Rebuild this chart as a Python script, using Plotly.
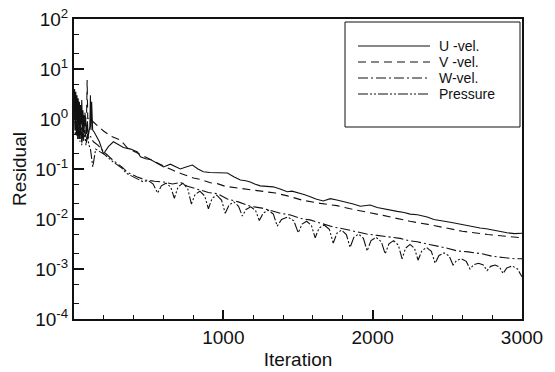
import plotly.graph_objects as go

# ---- data (iteration, residual) ----
u_data = [(0,2.0),(4,4.0),(8,0.9),(12,3.5),(16,1.0),(20,3.0),(24,0.7),(28,2.6),(32,0.9),(36,2.2),
          (40,0.6),(44,1.9),(48,0.8),(52,2.4),(56,0.6),(60,1.5),(64,0.55),(68,1.2),(72,0.7),(78,1.0),
          (84,0.5),(90,0.9),(95,0.45),(100,0.6),(106,0.7),(110,3.0),(114,0.6),(118,2.2),(125,0.6),
          (135,0.55),(150,0.45),(170,0.35),(197,0.2),(230,0.28),(264,0.35),(300,0.3),(331,0.27),
          (380,0.25),(425,0.22),(445,0.175),(480,0.16),(512,0.155),(560,0.13),(600,0.11),(645,0.125),
          (680,0.11),(712,0.1),(750,0.11),(793,0.12),(830,0.1),(866,0.088),(910,0.085),(960,0.084),
          (1000,0.086),(1027,0.083),(1070,0.07),(1114,0.06),(1150,0.058),(1180,0.055),(1210,0.05),
          (1247,0.046),(1290,0.045),(1334,0.044),(1380,0.04),(1428,0.035),(1460,0.036),(1495,0.034),
          (1540,0.031),(1582,0.028),(1620,0.025),(1669,0.023),(1716,0.0255),(1760,0.024),(1830,0.0215),
          (1870,0.02),(1917,0.018),(1983,0.019),(2030,0.017),(2070,0.016),(2120,0.015),(2164,0.0142),
          (2210,0.0135),(2251,0.0125),(2300,0.0122),(2365,0.011),(2410,0.0098),(2452,0.0092),
          (2500,0.0088),(2538,0.0084),(2590,0.0078),(2632,0.0073),(2680,0.007),(2719,0.0066),
          (2760,0.0064),(2806,0.006),(2850,0.0056),(2900,0.0053),(2950,0.0051),(2990,0.0052),(3000,0.0052)]

v_data = [(0,1.5),(4,3.2),(8,0.8),(12,2.6),(16,1.0),(20,2.2),(24,0.9),(28,2.0),(32,1.1),(36,1.8),
          (40,0.8),(44,1.6),(48,0.9),(52,1.3),(56,0.8),(60,1.2),(66,0.9),(72,1.4),(78,1.0),(84,1.1),
          (88,6.0),(92,1.0),(100,1.1),(115,0.95),(130,0.87),(160,0.72),(200,0.57),(250,0.45),
          (310,0.38),(360,0.26),(420,0.21),(480,0.17),(540,0.14),(600,0.115),(660,0.095),(720,0.08),
          (800,0.066),(846,0.062),(913,0.053),(960,0.051),(1013,0.045),(1060,0.043),(1140,0.041),
          (1240,0.037),(1350,0.033),(1430,0.029),(1530,0.0237),(1650,0.0205),(1760,0.0185),
          (1850,0.016),(1960,0.0135),(2070,0.0118),(2160,0.0103),(2250,0.009),(2370,0.0078),
          (2480,0.0066),(2600,0.0057),(2770,0.0049),(2950,0.0043),(3000,0.0042)]

w_data = [(0,1.0),(4,2.2),(8,0.5),(12,1.8),(16,0.45),(20,1.5),(24,0.4),(28,1.2),(32,0.5),(36,1.4),
          (40,0.4),(46,1.0),(52,0.35),(58,0.8),(64,0.4),(72,0.7),(80,0.35),(90,0.5),(100,0.4),
          (110,0.45),(130,0.35),(160,0.3),(200,0.22),(260,0.15),(320,0.11),(360,0.085),(420,0.07),
          (480,0.06),(540,0.057),(600,0.055),(660,0.05),(712,0.054),(760,0.045),(846,0.038),
          (900,0.034),(960,0.032),(1027,0.025),(1100,0.022),(1180,0.018),(1260,0.0165),(1340,0.014),
          (1381,0.013),(1450,0.012),(1515,0.0103),(1580,0.0096),(1629,0.0087),(1700,0.0076),
          (1736,0.0069),(1800,0.0064),(1896,0.0055),(1960,0.005),(2030,0.0047),(2100,0.0044),
          (2184,0.0041),(2240,0.0037),(2298,0.0035),(2380,0.0031),(2431,0.0029),(2500,0.0026),
          (2565,0.0023),(2640,0.0022),(2739,0.002),(2800,0.0018),(2873,0.0017),(2950,0.0016),(3000,0.0016)]

p_data = [(0,1.2),(4,2.6),(8,0.6),(12,2.0),(16,0.5),(20,1.6),(24,0.45),(28,1.3),(32,0.4),(36,1.1),
          (40,0.35),(46,0.9),(52,0.3),(58,0.7),(64,0.35),(72,0.6),(80,0.3),(90,0.45),(100,0.3),
          (110,0.25),(126,0.11),(145,0.25),(175,0.22),(200,0.2),(260,0.14),(320,0.105),(350,0.082),
          (400,0.068),(460,0.056),(500,0.058),(530,0.05),
          (560,0.033),(585,0.046),(616,0.052),(647,0.044),
          (672,0.026),(697,0.044),(729,0.052),(761,0.041),
          (786,0.020),(811,0.031),(843,0.036),(875,0.029),
          (900,0.016),(925,0.026),(956,0.030),(988,0.024),
          (1013,0.013),(1038,0.019),(1070,0.022),(1102,0.018),
          (1127,0.0115),(1152,0.0155),(1184,0.0175),(1216,0.0148),
          (1241,0.0093),(1267,0.0132),(1301,0.015),(1335,0.0125),
          (1361,0.0072),(1390,0.0098),(1431,0.011),(1472,0.0092),
          (1502,0.0053),(1527,0.0079),(1558,0.009),(1590,0.0074),
          (1615,0.0042),(1641,0.0066),(1675,0.0076),(1710,0.0062),
          (1736,0.0033),(1761,0.0052),(1792,0.006),(1824,0.0049),
          (1849,0.0027),(1874,0.0043),(1906,0.005),(1938,0.0041),
          (1963,0.0023),(1989,0.0037),(2023,0.0043),(2058,0.0035),
          (2084,0.0020),(2109,0.0032),(2140,0.0037),(2172,0.003),
          (2197,0.0016),(2220,0.0026),(2250,0.0031),(2280,0.0026),
          (2304,0.0015),(2329,0.0023),(2361,0.0027),(2393,0.00225),
          (2418,0.0013),(2444,0.00186),(2478,0.0021),(2512,0.00183),
          (2538,0.0012),(2563,0.00149),(2595,0.0016),(2627,0.00142),
          (2652,0.0010),(2677,0.00122),(2709,0.0013),(2741,0.0012),
          (2766,0.00093),(2790,0.00113),(2820,0.0012),(2850,0.00109),
          (2873,0.00081),(2898,0.00105),(2935,0.00115),(2970,0.001),
          (3000,0.0007)]

series_names = ["U -vel.", "V -vel.", "W-vel.", "Pressure"]
series_data = [u_data, v_data, w_data, p_data]
series_dash = ["solid", "8px,5px", "10px,3px,2px,3px", "10px,2px,2px,2px,2px,2px"]

y_tickvals = [1e-4, 1e-3, 1e-2, 1e-1, 1e0, 1e1, 1e2]
y_ticktext = ["10<sup>-4</sup>", "10<sup>-3</sup>", "10<sup>-2</sup>", "10<sup>-1</sup>",
              "10<sup>0</sup>", "10<sup>1</sup>", "10<sup>2</sup>"]
x_tickvals = [1000, 2000, 3000]
x_ticktext = ["1000", "2000", "3000"]

FONT = "Liberation Sans, Arial, sans-serif"
INK = "#111111"

fig = go.Figure()
for name, data, dash in zip(series_names, series_data, series_dash):
    fig.add_trace(go.Scatter(
        x=[p[0] for p in data], y=[p[1] for p in data], mode="lines", name=name,
        line=dict(color=INK, width=1.1, dash=dash), showlegend=False))

# plot area geometry (pixels)
W, H = 555, 372
L, R, T, B = 74, 33, 19, 53
pw, ph = W - L - R, H - T - B

def px(xp):
    return (xp - L) / pw

def py(yp):
    return (H - B - yp) / ph

shapes = [dict(type="rect", xref="paper", yref="paper", x0=px(345), x1=px(520), y0=py(127), y1=py(22),
               line=dict(color=INK, width=1), fillcolor="white", layer="above")]
annotations = []
rows = [46, 62, 78, 94]
for name, dash, ry in zip(series_names, series_dash, rows):
    shapes.append(dict(type="line", xref="paper", yref="paper", x0=px(358), x1=px(430),
                       y0=py(ry), y1=py(ry), line=dict(color=INK, width=1.1, dash=dash), layer="above"))
    annotations.append(dict(xref="paper", yref="paper", x=px(438), y=py(ry), text=name, showarrow=False,
                            xanchor="left", yanchor="middle", borderpad=0,
                            font=dict(family=FONT, size=14, color=INK)))

fig.update_layout(
    width=W, height=H, margin=dict(l=L, r=R, t=T, b=B),
    paper_bgcolor="white", plot_bgcolor="white",
    font=dict(family=FONT, size=19, color=INK),
    shapes=shapes, annotations=annotations, showlegend=False,
    xaxis=dict(range=[0, 3000], tickmode="array", tickvals=x_tickvals, ticktext=x_ticktext,
               ticks="inside", ticklen=9, tickwidth=1.5, tickcolor=INK, automargin=False,
               minor=dict(tickmode="linear", tick0=0, dtick=200, ticks="inside", ticklen=4,
                          tickwidth=1, tickcolor=INK, showgrid=False),
               showline=True, linewidth=2, linecolor=INK, mirror=True, showgrid=False, zeroline=False,
               title=dict(text="Iteration", standoff=6, font=dict(size=19)),
               tickfont=dict(size=19)),
    yaxis=dict(type="log", range=[-4, 2], tickmode="array", tickvals=y_tickvals, ticktext=y_ticktext,
               ticks="inside", ticklen=10, tickwidth=1.5, tickcolor=INK, automargin=False,
               minor=dict(ticks="inside", ticklen=5, tickwidth=1, tickcolor=INK, showgrid=False),
               showline=True, linewidth=2, linecolor=INK, mirror=True, showgrid=False, zeroline=False,
               title=dict(text="Residual", standoff=4, font=dict(size=19)),
               tickfont=dict(size=19)),
)

fig.write_html("out.html", config={"displayModeBar": False},
               post_script="document.body.style.margin='0';document.body.style.padding='0';")
